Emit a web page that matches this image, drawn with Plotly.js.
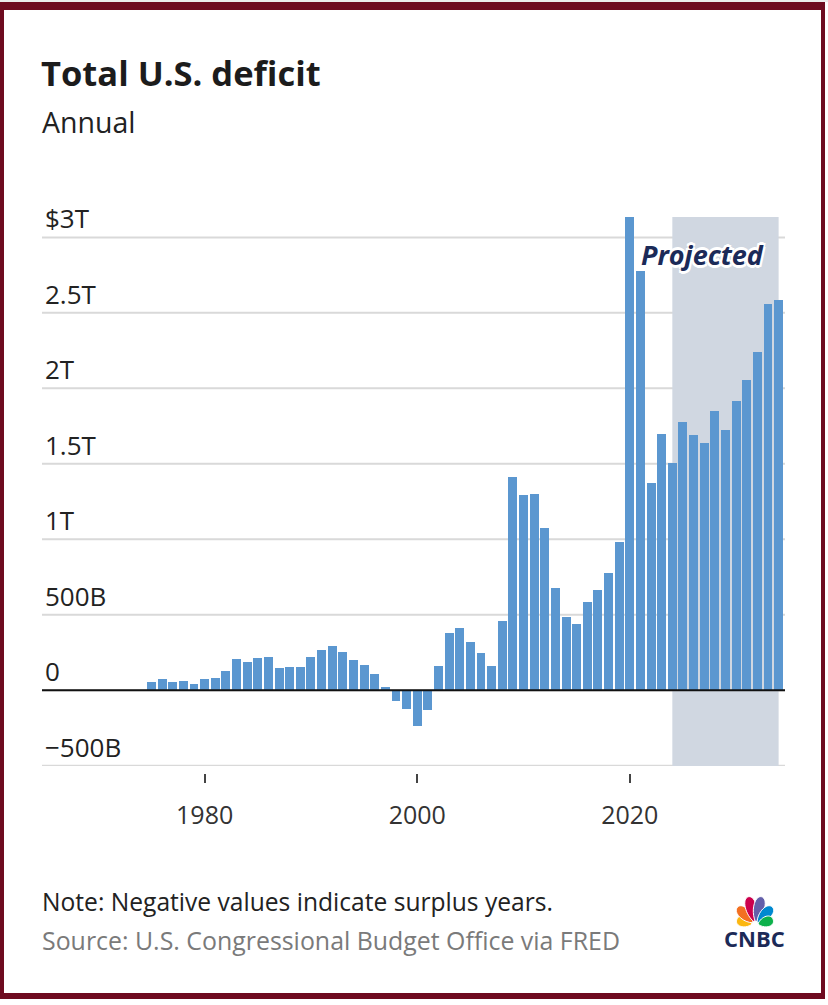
<!DOCTYPE html>
<html>
<head>
<meta charset="utf-8">
<script src="https://cdn.plot.ly/plotly-3.0.1.min.js"></script>
<style>
  html, body { margin: 0; padding: 0; background: #ffffff; }
  #wrap { position: relative; width: 828px; height: 1005px; overflow: hidden; background: #fff; }
  #topstrip { position: absolute; left: 0; top: 0; width: 828px; height: 2px; background: #ececec; z-index: 5; }
  #frame { position: absolute; left: 0; top: 2px; width: 817px; height: 983px; border-style: solid; border-color: #6e0b20;
           border-width: 8px 4px 6px 4px; pointer-events: none; z-index: 5; }
  #chart { position: absolute; left: 0; top: 0; width: 828px; height: 1005px; }
</style>
</head>
<body>
<div id="wrap">
  <div id="chart"></div>
  <div id="topstrip"></div>
  <div id="frame"></div>
</div>
<script>
// ---- data (US$ billions, fiscal years) ----
const years = [1975,1976,1977,1978,1979,1980,1981,1982,1983,1984,1985,1986,1987,1988,1989,
  1990,1991,1992,1993,1994,1995,1996,1997,1998,1999,2000,2001,2002,2003,2004,2005,2006,2007,2008,2009,
  2010,2011,2012,2013,2014,2015,2016,2017,2018,2019,2020,2021,2022,2023,2024,2025,2026,2027,2028,2029,
  2030,2031,2032,2033,2034];
const deficit = [53,74,54,59,41,74,79,128,208,185,212,221,150,155,153,
  221,269,290,255,203,164,107,22,-69,-126,-236,-128,158,378,413,318,248,161,459,1413,
  1294,1300,1077,680,485,442,585,665,779,984,3132,2775,1376,1695,1508,1775,1693,1640,1848,1727,
  1919,2058,2241,2561,2583];
const projectedStart = 2024;
const projectedEnd = 2034;
const yTickVals = [-500, 0, 500, 1000, 1500, 2000, 2500, 3000];
const yTickText = ['\u2212500B', '0', '500B', '1T', '1.5T', '2T', '2.5T', '$3T'];
const xTickVals = [1980, 2000, 2020];
const xTickText = ['1980', '2000', '2020'];
const titleText = 'Total U.S. deficit';
const subtitleText = 'Annual';
const noteText = 'Note: Negative values indicate surplus years.';
const sourceText = 'Source: U.S. Congressional Budget Office via FRED';
const projectedLabel = 'Projected';

// ---- layout geometry (pixels) ----
const W = 828, H = 1005;
const PL = 42, PR = 785, PT = 217, PB = 773;
const px2x = px => (px - PL) / (PR - PL);
const py2y = py => (PB - py) / (PB - PT);
const FONT = 'Open Sans, Lato, sans-serif';

// CNBC peacock feathers
const peacockBase = [755, 925];
const feathers = [
  {ang: 164, len: 16, w: 12, color: '#fcb711'},
  {ang: 134, len: 22, w: 12.5, color: '#f37021'},
  {ang: 103, len: 26, w: 12.5, color: '#cc004c'},
  {ang: 77,  len: 26, w: 12.5, color: '#6460aa'},
  {ang: 46,  len: 22, w: 12.5, color: '#0089d0'},
  {ang: 16,  len: 16, w: 12, color: '#0db14b'}
];
function featherPath(f) {
  const a = f.ang * Math.PI / 180;
  const ux = Math.cos(a), uy = -Math.sin(a);
  const nx = -uy, ny = ux;
  const bx = peacockBase[0] + ux * 3, by = peacockBase[1] + uy * 3;
  const tx = bx + ux * f.len, ty = by + uy * f.len;
  const hw = f.w / 2;
  const P = (x, y) => px2x(x).toFixed(5) + ',' + py2y(y).toFixed(5);
  let d = 'M' + P(bx, by);
  d += ' C' + P(bx + ux * f.len * 0.35 + nx * hw * 1.2, by + uy * f.len * 0.35 + ny * hw * 1.2) + ' ' +
       P(tx + nx * hw * 1.15, ty + ny * hw * 1.15) + ' ' + P(tx, ty);
  d += ' C' + P(tx - nx * hw * 1.15, ty - ny * hw * 1.15) + ' ' +
       P(bx + ux * f.len * 0.35 - nx * hw * 1.2, by + uy * f.len * 0.35 - ny * hw * 1.2) + ' ' + P(bx, by) + ' Z';
  return d;
}

const shapes = [];
// horizontal gridlines (drawn first so the projected band covers them)
yTickVals.forEach(v => shapes.push({type: 'line', layer: 'below', xref: 'paper', yref: 'y',
  x0: 0, x1: 1, y0: v, y1: v, line: {color: '#d9d9d9', width: 2}}));
shapes.push({type: 'rect', layer: 'below', xref: 'x', yref: 'y domain', x0: projectedStart, x1: projectedEnd, y0: 0, y1: 1,
  fillcolor: '#d0d7e1', line: {width: 0}});
shapes.push({type: 'line', layer: 'above', xref: 'paper', yref: 'y', x0: 0, x1: 1, y0: 0, y1: 0,
  line: {color: '#111111', width: 2}});
feathers.forEach(f => shapes.push({type: 'path', layer: 'above', xref: 'paper', yref: 'paper',
  path: featherPath(f), fillcolor: f.color, line: {color: '#ffffff', width: 1}}));

const trace = {
  type: 'bar',
  x: years,
  y: deficit,
  width: 0.84,
  marker: {color: '#5b97d0', line: {width: 0}},
  hoverinfo: 'x+y'
};

const layout = {
  width: W, height: H,
  paper_bgcolor: 'rgba(0,0,0,0)',
  plot_bgcolor: 'rgba(0,0,0,0)',
  margin: {l: PL, r: W - PR, t: PT, b: H - PB, pad: 0},
  showlegend: false,
  bargap: 0,
  font: {family: FONT, color: '#222'},
  title: {
    text: '<b>' + titleText + '</b>',
    xref: 'container', yref: 'container',
    x: 41 / W, xanchor: 'left',
    y: 1 - 74 / H, yanchor: 'middle',
    pad: {l: 0, r: 0, t: 0, b: 0},
    font: {family: FONT, size: 34.5, color: '#1c1c1c', weight: 700}
  },
  xaxis: {
    range: [1964.7, 2034.6],
    anchor: 'free', position: 0,
    tickmode: 'array', tickvals: xTickVals, ticktext: xTickText,
    ticks: 'outside', ticklen: 9, tickwidth: 2, tickcolor: '#444',
    ticklabelstandoff: 11,
    tickfont: {family: FONT, size: 25, color: '#333'},
    showgrid: false, zeroline: false, showline: false, fixedrange: true
  },
  yaxis: {
    range: [-502, 3135],
    domain: [7 / (PB - PT), 1],
    tickmode: 'array', tickvals: yTickVals, ticktext: yTickText,
    ticks: '', ticklabelposition: 'inside top', ticklabeloverflow: 'allow',
    tickfont: {family: FONT, size: 26, color: '#222'},
    showgrid: false,
    zeroline: false, showline: false, fixedrange: true
  },
  shapes: shapes,
  annotations: [
    {xref: 'paper', yref: 'paper', x: px2x(40), y: py2y(122), xanchor: 'left', yanchor: 'middle',
     text: subtitleText, showarrow: false, font: {family: FONT, size: 28.5, color: '#222'}},
    {xref: 'x', yref: 'y', x: 2026.8, y: 2887, xanchor: 'center', yanchor: 'middle',
     text: '<b><i>' + projectedLabel + '</i></b>', showarrow: false,
     font: {family: FONT, size: 27, color: '#1b2a58', weight: 800, style: 'italic',
            shadow: '2px 2px 0 #fff, -2px -2px 0 #fff, 2px -2px 0 #fff, -2px 2px 0 #fff, 0 3px 0 #fff, 0 -3px 0 #fff'}},
    {xref: 'paper', yref: 'paper', x: px2x(40), y: py2y(901), xanchor: 'left', yanchor: 'middle',
     text: noteText, showarrow: false, font: {family: FONT, size: 24.6, color: '#222'}},
    {xref: 'paper', yref: 'paper', x: px2x(40), y: py2y(940), xanchor: 'left', yanchor: 'middle',
     text: sourceText, showarrow: false, font: {family: FONT, size: 24.9, color: '#7a7a7a'}},
    {xref: 'paper', yref: 'paper', x: px2x(754), y: py2y(938), xanchor: 'center', yanchor: 'middle',
     text: '<b>CNBC</b>', showarrow: false, font: {family: FONT, size: 22, color: '#1c2a57', weight: 800}}
  ]
};

Plotly.newPlot('chart', [trace], layout, {staticPlot: true, displayModeBar: false});
</script>
</body>
</html>
